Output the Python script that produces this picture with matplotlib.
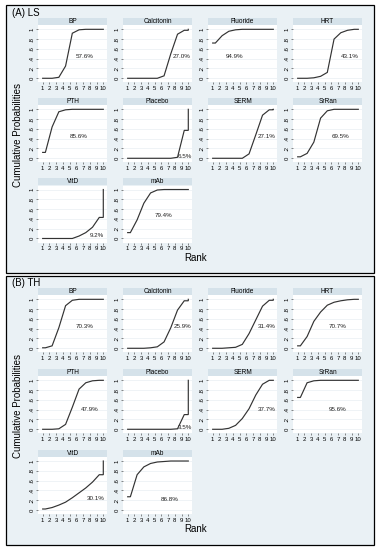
import matplotlib
matplotlib.use("Agg")
import matplotlib.pyplot as plt
from matplotlib.patches import Rectangle

plt.rcParams['font.family'] = ['Liberation Sans', 'DejaVu Sans']

# ---- данные: кумулятивные вероятности по рангам 1..10 ----
ranks = list(range(1, 11))
treatments = ["BP", "Calcitonin", "Fluoride", "HRT", "PTH", "Placebo",
              "SERM", "SrRan", "VitD", "mAb"]

# (A) LS
ls_bp         = [0, 0, 0.02, 0.25, 0.92, 0.99, 1, 1, 1, 1]
ls_calcitonin = [0, 0, 0, 0, 0, 0.05, 0.50, 0.90, 0.98, 1]
ls_fluoride   = [0.72, 0.87, 0.96, 0.99, 1, 1, 1, 1, 1, 1]
ls_hrt        = [0, 0, 0.01, 0.04, 0.12, 0.80, 0.93, 0.98, 1, 1]
ls_pth        = [0.12, 0.64, 0.95, 0.99, 1, 1, 1, 1, 1, 1]
ls_placebo    = [0, 0, 0, 0, 0, 0, 0, 0.02, 0.57, 1]
ls_serm       = [0, 0, 0, 0, 0, 0.09, 0.48, 0.88, 0.99, 1]
ls_srran      = [0.03, 0.10, 0.33, 0.82, 0.97, 1, 1, 1, 1, 1]
ls_vitd       = [0, 0, 0, 0, 0, 0.05, 0.12, 0.23, 0.43, 1]
ls_mab        = [0.12, 0.38, 0.72, 0.93, 0.99, 1, 1, 1, 1, 1]
ls_sucra = ["57.6%", "27.0%", "94.9%", "43.1%", "85.6%", "6.5%",
            "27.1%", "69.5%", "9.2%", "79.4%"]

# (B) TH
th_bp         = [0.01, 0.05, 0.42, 0.87, 0.98, 1, 1, 1, 1, 1]
th_calcitonin = [0, 0, 0, 0.01, 0.03, 0.13, 0.42, 0.78, 0.97, 1]
th_fluoride   = [0, 0, 0.01, 0.02, 0.08, 0.30, 0.58, 0.86, 0.98, 1]
th_hrt        = [0.05, 0.24, 0.55, 0.74, 0.88, 0.94, 0.97, 0.99, 1, 1]
th_pth        = [0, 0, 0.01, 0.10, 0.45, 0.82, 0.95, 0.99, 1, 1]
th_placebo    = [0, 0, 0, 0, 0, 0, 0, 0.01, 0.30, 1]
th_serm       = [0, 0, 0.02, 0.08, 0.22, 0.42, 0.70, 0.92, 1, 1]
th_srran      = [0.65, 0.95, 0.99, 1, 1, 1, 1, 1, 1, 1]
th_vitd       = [0.02, 0.05, 0.10, 0.16, 0.25, 0.35, 0.45, 0.57, 0.72, 1]
th_mab        = [0.27, 0.72, 0.88, 0.95, 0.98, 0.99, 1, 1, 1, 1]
th_sucra = ["70.3%", "25.9%", "31.4%", "70.7%", "47.9%", "3.5%",
            "37.7%", "95.6%", "30.1%", "86.8%"]

ls_series = [ls_bp, ls_calcitonin, ls_fluoride, ls_hrt, ls_pth, ls_placebo,
             ls_serm, ls_srran, ls_vitd, ls_mab]
th_series = [th_bp, th_calcitonin, th_fluoride, th_hrt, th_pth, th_placebo,
             th_serm, th_srran, th_vitd, th_mab]

# положение подписей SUCRA (в координатах данных)
ls_label_xy = [(7.3, 0.45), (9.0, 0.45), (4.3, 0.45), (8.7, 0.45), (6.3, 0.45),
               (9.5, 0.03), (9.0, 0.45), (7.3, 0.45), (9.0, 0.07), (6.3, 0.46)]
th_label_xy = [(7.2, 0.45), (9.2, 0.45), (9.0, 0.45), (6.9, 0.45), (8.0, 0.40),
               (9.5, 0.03), (9.0, 0.40), (7.0, 0.40), (8.8, 0.23), (7.3, 0.21)]

# ---- разметка в пикселях ----
W, H = 379, 550
fig = plt.figure(figsize=(W / 100, H / 100), dpi=100)

PANEL_BG = '#eaf1f5'
STRIP_BG = '#d5e2ea'
LINE_C = '#333333'
OFFSET = 0.4


def px_axes(x, y, w, h):
    return fig.add_axes([x / W, 1 - (y + h) / H, w / W, h / H])


def panel_box(y0, y1):
    r = Rectangle((6 / W, 1 - y1 / H), (374 - 6) / W, (y1 - y0) / H,
                  transform=fig.transFigure, facecolor=PANEL_BG,
                  edgecolor='black', lw=0.9, zorder=-1)
    fig.add_artist(r)


col_x = [38.3, 123.3, 208.3, 293.3]
PW = 68.5


def draw_panel(title, rows, series, sucra, label_xy, y0, y1, ylab_y, rank_y):
    panel_box(y0, y1)
    fig.text(12.5 / W, 1 - (y0 + 7.5) / H, title, fontsize=7,
             ha='left', va='center')
    fig.text(18 / W, 1 - ylab_y / H, "Cumulative Probabilities", fontsize=7,
             rotation=90, ha='center', va='center')
    fig.text(196 / W, 1 - rank_y / H, "Rank", fontsize=7,
             ha='center', va='center')
    for k, name in enumerate(treatments):
        T = rows[k // 4]
        x0 = col_x[k % 4]
        # полоса заголовка
        sa = px_axes(x0, T, PW, 6.6)
        sa.set_facecolor(STRIP_BG)
        sa.set_xticks([])
        sa.set_yticks([])
        for s in sa.spines.values():
            s.set_visible(False)
        sa.text(0.5, 0.5, name, fontsize=4.7, ha='center', va='center',
                transform=sa.transAxes)

        ax = px_axes(x0, T + 7, PW, 57)
        ax.set_facecolor('white')
        vals = series[k]
        xs = [1] + [r + OFFSET for r in ranks[:9]] + [10, 10]
        ys = [vals[0]] + vals[:9] + [vals[8], vals[9]]
        ax.plot(xs, ys, color=LINE_C, lw=0.85, solid_joinstyle='miter')
        lx, ly = label_xy[k]
        ax.text(lx, ly, sucra[k], fontsize=4.5, ha='center', va='center',
                color='#222222')
        ax.set_xlim(0.35, 10.52)
        ax.set_ylim(-0.082, 1.082)
        ax.set_xticks(ranks)
        ax.set_xticklabels([str(r) for r in ranks])
        ax.set_yticks([0, 0.2, 0.4, 0.6, 0.8, 1])
        ax.set_yticklabels(["0", ".2", ".4", ".6", ".8", "1"], rotation=90,
                           va='center')
        ax.tick_params(labelsize=4.3, length=1.6, width=0.4, pad=1,
                       color='#333333')
        ax.yaxis.grid(True, color='#e4ebf0', lw=0.4)
        ax.set_axisbelow(True)
        for s in ax.spines.values():
            s.set_visible(False)


draw_panel("(A) LS", [18.3, 98.3, 178.5], ls_series, ls_sucra, ls_label_xy,
           5, 273, 135, 258)
draw_panel("(B) TH", [288.3, 369.3, 450], th_series, th_sucra, th_label_xy,
           276, 545, 406, 529)

fig.savefig("out.png", dpi=100)
